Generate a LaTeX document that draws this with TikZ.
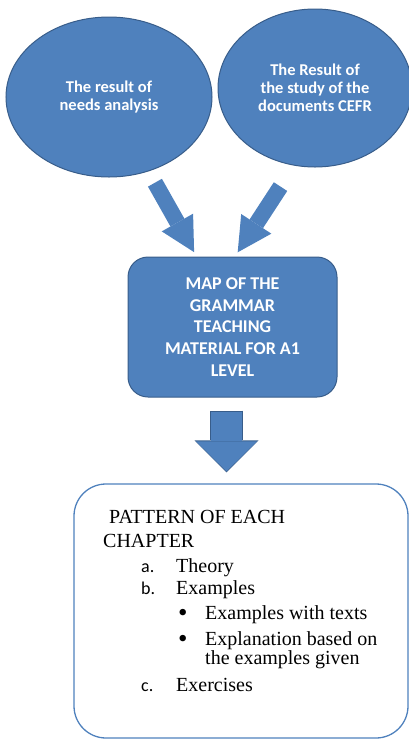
\documentclass[tikz,border=0pt]{standalone}
\usepackage{fontspec}
\setmainfont{Liberation Serif}
\newfontfamily\calibri{Carlito}
\usetikzlibrary{shapes.geometric,arrows.meta,positioning}

\definecolor{shapeblue}{HTML}{4F81BD}
\definecolor{edgeblue}{HTML}{385D8A}

\tikzset{
  source/.style={ellipse, fill=shapeblue, draw=edgeblue, line width=1pt, inner sep=0pt, text=white, align=center, font=\calibri\bfseries\fontsize{16.5}{18}\selectfont},
  mapbox/.style={rectangle, rounded corners=20pt, fill=shapeblue, draw=edgeblue, line width=1pt, minimum width=209pt, minimum height=140pt, text=white, align=center, font=\calibri\bfseries\fontsize{18}{21.7}\selectfont},
  chapterbox/.style={rectangle, rounded corners=32pt, draw=shapeblue, line width=1.3pt, minimum width=334pt, minimum height=254pt},
  chaptertext/.style={inner sep=0pt, align=left, font=\fontsize{20}{20}\selectfont},
  flow/.style={shapeblue, line width=16pt, -{Triangle[width=36pt,length=34pt,line width=0pt]}},
  bigflow/.style={shapeblue, line width=31pt, -{Triangle[width=61pt,length=30pt,line width=0pt]}, shorten >=12pt, shorten <=14pt,
    preaction={draw=edgeblue, line width=33pt, -{Triangle[width=64pt,length=32pt,line width=0pt]}, shorten >=11pt, shorten <=13pt}}
}
\newcommand{\itemlabel}[1]{\makebox[35pt][l]{\calibri\fontsize{18}{20}\selectfont #1}}
\newcommand{\itemdot}{\makebox[27pt][l]{\raisebox{-2pt}{\scalebox{1.35}{\textbullet}}}}

\begin{document}
\begin{tikzpicture}[x=1pt, y=-1pt]
  \useasboundingbox (0,0) rectangle (409,740);
  \node[source, minimum width=206pt, minimum height=160pt] (needs) at (109,97) {The result of\\needs analysis};
  \node[source, minimum width=194pt, minimum height=158pt] (cefr) at (315,88) {The Result of\\the study of the\\documents CEFR};
  \node[mapbox] (map) at (232.5,327) {MAP OF THE\\GRAMMAR\\TEACHING\\MATERIAL FOR A1\\LEVEL};
  \node[chapterbox] (pattern) at (241,611) {};
  \node[chaptertext, anchor=north west] (items) at (103,509.8) {%
    \hspace*{6pt}PATTERN OF EACH\\[4pt]
    CHAPTER\\[5pt]
    \hspace*{38pt}\itemlabel{a.}Theory\\[2pt]
    \hspace*{38pt}\itemlabel{b.}Examples\\[5pt]
    \hspace*{75pt}\itemdot Examples with texts\\[6pt]
    \hspace*{75pt}\itemdot Explanation based on\\[-1pt]
    \hspace*{102pt}the examples given\\[7pt]
    \hspace*{38pt}\itemlabel{c.}Exercises};
  \draw[flow, shorten <=13pt, shorten >=5pt] (needs.298) -- (map.117);
  \draw[flow, shorten <=25pt, shorten >=5pt] (cefr.255) -- (map.88);
  \draw[bigflow] ([xshift=-6pt]map.south) -- ([xshift=-6pt]map.south |- pattern.north);
\end{tikzpicture}
\end{document}
